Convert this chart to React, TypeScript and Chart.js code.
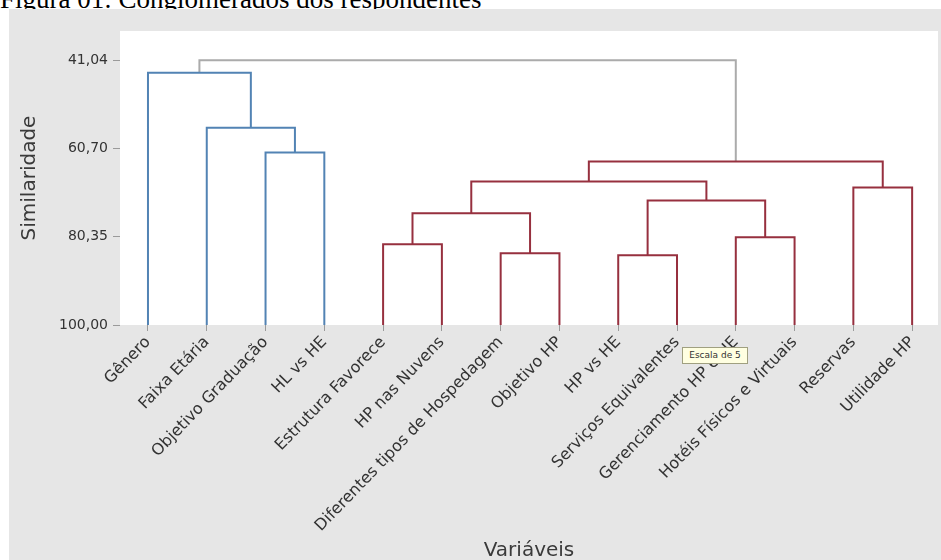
import React, { useEffect, useRef } from "react";
import { Chart, registerables } from "chart.js";

Chart.register(...registerables);

const chartTitle = "Figura 01: Conglomerados dos respondentes";
const yAxisTitle = "Similaridade";
const xAxisTitle = "Variáveis";
const tooltipText = "Escala de 5";

// leaves of the dendrogram, left to right (ids 1..14)
const leaves = [
  "Gênero",
  "Faixa Etária",
  "Objetivo Graduação",
  "HL vs HE",
  "Estrutura Favorece",
  "HP nas Nuvens",
  "Diferentes tipos de Hospedagem",
  "Objetivo HP",
  "HP vs HE",
  "Serviços Equivalentes",
  "Gerenciamento HP e HE",
  "Hotéis Físicos e Virtuais",
  "Reservas",
  "Utilidade HP",
];

// merges: new node id = 14 + (index + 1)
const mergeLeft = [3, 2, 1, 5, 7, 18, 9, 11, 21, 20, 13, 24, 17];
const mergeRight = [4, 15, 16, 6, 8, 19, 10, 12, 22, 23, 14, 25, 26];
const mergeSimilarity = [61.58, 56.03, 43.82, 82.0, 84.0, 75.13, 84.46, 80.46, 72.24, 68.02, 69.35, 63.58, 41.04];
const mergeGroup = ["A", "A", "A", "B", "B", "B", "B", "B", "B", "B", "B", "B", "C"];

const yTickValues = [41.04, 60.7, 80.35, 100.0];
const leafSimilarity = 100;

const groupColors: Record<string, string> = { A: "#5283b4", B: "#97303f", C: "#ababab" };

function buildDatasets() {
  const nLeaves = leaves.length;
  const pos: Record<number, number> = {};
  const hgt: Record<number, number> = {};
  leaves.forEach((_, i) => {
    pos[i + 1] = i + 1;
    hgt[i + 1] = leafSimilarity;
  });
  return mergeLeft.map((l, k) => {
    const r = mergeRight[k];
    const h = mergeSimilarity[k];
    const id = nLeaves + k + 1;
    pos[id] = (pos[l] + pos[r]) / 2;
    hgt[id] = h;
    return {
      data: [
        { x: pos[l], y: hgt[l] },
        { x: pos[l], y: h },
        { x: pos[r], y: h },
        { x: pos[r], y: hgt[r] },
      ],
      borderColor: groupColors[mergeGroup[k]],
      backgroundColor: groupColors[mergeGroup[k]],
      borderWidth: 2,
      pointRadius: 0,
      showLine: true,
      tension: 0,
    };
  });
}

const plotBg = {
  id: "plotBg",
  beforeDraw(chart: any) {
    const { ctx, chartArea } = chart;
    ctx.save();
    ctx.fillStyle = "#ffffff";
    ctx.fillRect(chartArea.left, chartArea.top, chartArea.right - chartArea.left, chartArea.bottom - chartArea.top);
    ctx.restore();
  },
};

export default function App() {
  const ref = useRef<HTMLCanvasElement | null>(null);
  useEffect(() => {
    if (!ref.current) return;
    const chart = new Chart(ref.current, {
      type: "scatter",
      data: { datasets: buildDatasets() as any },
      options: {
        animation: false,
        responsive: false,
        devicePixelRatio: 1,
        layout: { padding: { top: 22, right: 3, left: 0, bottom: 0 } },
        plugins: { legend: { display: false }, tooltip: { enabled: false } },
        scales: {
          x: {
            type: "linear",
            min: 0.524,
            max: 14.44,
            afterFit: (s: any) => {
              s.height = 235;
            },
            afterBuildTicks: (s: any) => {
              s.ticks = leaves.map((_, i) => ({ value: i + 1 }));
            },
            border: { display: false },
            grid: { drawOnChartArea: false, drawTicks: true, tickLength: 6, tickColor: "#9a9a9a" },
            ticks: {
              autoSkip: false,
              minRotation: 46,
              maxRotation: 46,
              padding: 2,
              color: "#333333",
              font: { family: "DejaVu Sans", size: 16 },
              callback: (v: any) => leaves[Math.round(Number(v)) - 1] ?? "",
            },
            title: {
              display: true,
              text: xAxisTitle,
              color: "#3a3a3a",
              font: { family: "DejaVu Sans", size: 20 },
              padding: { top: 0, bottom: -3 },
            },
          },
          y: {
            type: "linear",
            reverse: true,
            min: 34.5,
            max: 100,
            afterFit: (s: any) => {
              s.width = 111;
            },
            afterBuildTicks: (s: any) => {
              s.ticks = yTickValues.map((v) => ({ value: v }));
            },
            border: { display: false },
            grid: { drawOnChartArea: false, drawTicks: true, tickLength: 7, tickColor: "#9a9a9a" },
            ticks: {
              padding: 5,
              color: "#333333",
              font: { family: "DejaVu Sans", size: 14 },
              callback: (v: any) => Number(v).toFixed(2).replace(".", ","),
            },
            title: {
              display: true,
              text: yAxisTitle,
              color: "#3a3a3a",
              font: { family: "DejaVu Sans", size: 20 },
              padding: { top: 9, bottom: 0 },
            },
          },
        },
      },
      plugins: [plotBg],
    });
    return () => chart.destroy();
  }, []);

  return (
    <div style={{ position: "fixed", left: 0, top: 0, width: 941, height: 560, overflow: "hidden", background: "#ffffff" }}>
      <div
        style={{
          position: "absolute",
          left: 0,
          top: 0,
          width: 941,
          height: 9,
          overflow: "hidden",
        }}
      >
        <div
          style={{
            position: "absolute",
            left: 0,
            top: -14,
            fontFamily: "'Liberation Serif', 'Times New Roman', serif",
            fontSize: 27,
            lineHeight: "27px",
            color: "#000",
            whiteSpace: "nowrap",
          }}
        >
          {chartTitle}
        </div>
      </div>
      <div style={{ position: "absolute", left: 9, top: 9, width: 932, height: 551, background: "#e6e6e6" }}>
        <canvas ref={ref} width={932} height={551} style={{ display: "block", width: 932, height: 551 }} />
      </div>
      <div
        style={{
          position: "absolute",
          left: 682,
          top: 347,
          width: 64,
          height: 15,
          background: "#ffffe1",
          border: "1px solid #a0a080",
          fontFamily: "DejaVu Sans, sans-serif",
          fontSize: 9,
          lineHeight: "15px",
          color: "#333",
          textAlign: "center",
          whiteSpace: "nowrap",
        }}
      >
        {tooltipText}
      </div>
    </div>
  );
}
